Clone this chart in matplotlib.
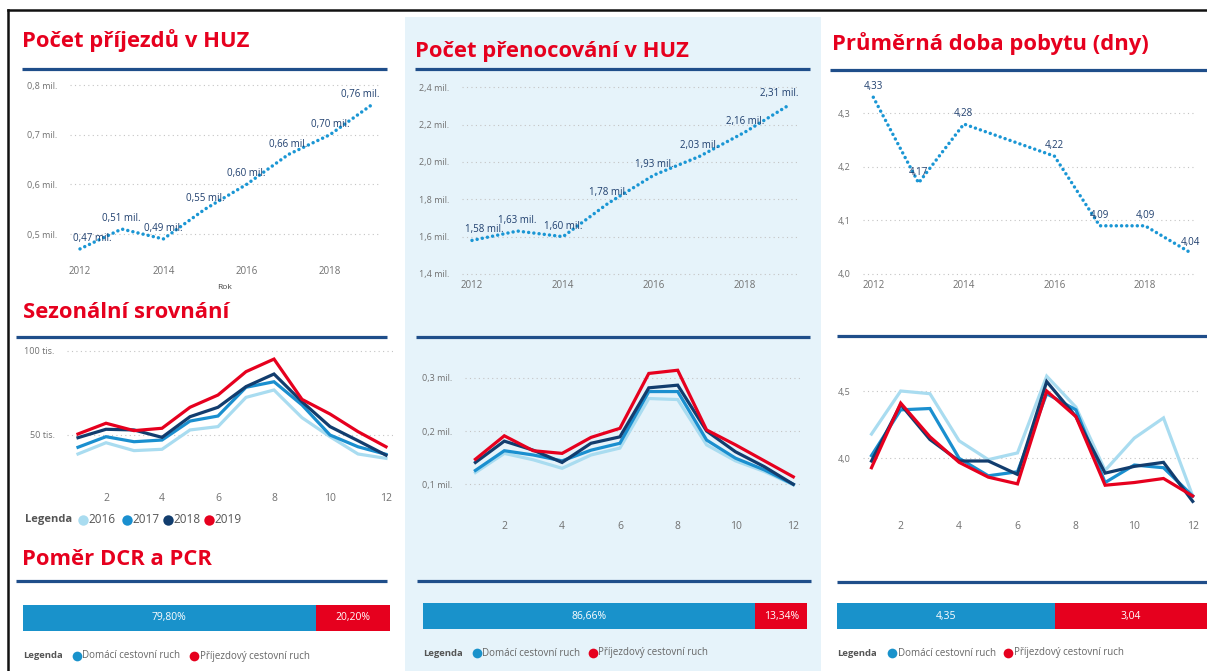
import matplotlib
matplotlib.use("Agg")
import matplotlib.pyplot as plt
from matplotlib.patches import Rectangle

W, H = 1207, 671
plt.rcParams.update({
    "font.family": ["Open Sans", "DejaVu Sans"],
    "axes.facecolor": "none",
})

RED = "#e6001e"
NAVY = "#1f4e8a"
DOT = "#1a96d4"
BLUE = "#1992cb"
GREY = "#707070"
LABEL = "#1f3f6e"
PANEL = "#e6f3fa"
YEAR_COLORS = {"2016": "#a9dcf0", "2017": "#1a8fcf", "2018": "#123d6e", "2019": "#e6001e"}

# ---- data
years = [2012, 2013, 2014, 2015, 2016, 2017, 2018, 2019]
arrivals = [0.47, 0.51, 0.49, 0.55, 0.60, 0.66, 0.70, 0.76]          # mil.
nights = [1.58, 1.63, 1.60, 1.78, 1.93, 2.03, 2.16, 2.31]            # mil.
stay = [4.33, 4.17, 4.28, 4.25, 4.22, 4.09, 4.09, 4.04]              # dny
stay_labelled = [True, True, True, False, True, True, True, True]

months = list(range(1, 13))
season_years = ["2016", "2017", "2018", "2019"]
season_arrivals = {  # tis.
    "2016": [38.7, 45.4, 40.7, 41.5, 53.0, 55.0, 72.4, 76.8, 60.3, 49.0, 38.7, 36.1],
    "2017": [42.7, 49.0, 46.0, 47.0, 58.3, 61.3, 78.4, 81.7, 67.9, 50.0, 43.0, 38.5],
    "2018": [48.4, 53.4, 53.0, 48.6, 60.9, 66.5, 78.8, 86.3, 69.8, 55.0, 46.6, 38.0],
    "2019": [50.6, 57.0, 52.6, 54.0, 66.5, 73.8, 87.7, 95.2, 71.2, 62.5, 52.0, 43.0],
}
season_nights = {  # mil.
    "2016": [0.122, 0.158, 0.146, 0.130, 0.155, 0.168, 0.261, 0.259, 0.174, 0.144, 0.124, 0.099],
    "2017": [0.126, 0.163, 0.155, 0.144, 0.164, 0.177, 0.274, 0.274, 0.183, 0.149, 0.127, 0.100],
    "2018": [0.141, 0.181, 0.164, 0.141, 0.177, 0.189, 0.281, 0.286, 0.200, 0.161, 0.133, 0.100],
    "2019": [0.147, 0.191, 0.163, 0.158, 0.188, 0.205, 0.308, 0.314, 0.202, 0.174, 0.144, 0.114],
}
season_stay = {
    "2016": [4.18, 4.50, 4.48, 4.13, 3.99, 4.04, 4.61, 4.38, 3.91, 4.15, 4.30, 3.72],
    "2017": [4.02, 4.36, 4.37, 4.00, 3.87, 3.90, 4.48, 4.36, 3.82, 3.95, 3.93, 3.72],
    "2018": [3.98, 4.40, 4.14, 3.98, 3.98, 3.88, 4.57, 4.31, 3.89, 3.94, 3.97, 3.68],
    "2019": [3.93, 4.41, 4.16, 3.97, 3.86, 3.81, 4.50, 4.31, 3.80, 3.82, 3.85, 3.72],
}

share_labels = ["Domácí cestovní ruch", "Příjezdový cestovní ruch"]
arrivals_share = [79.80, 20.20]
nights_share = [86.66, 13.34]
stay_split = [4.35, 3.04]


def cz(v, d):
    return f"{v:.{d}f}".replace(".", ",")


def lims(a0, a1, v0, p0, v1, p1):
    s = (v1 - v0) / (p1 - p0)
    return v0 + (a0 - p0) * s, v0 + (a1 - p0) * s


def add_ax(fig, x0, y0, x1, y1):
    return fig.add_axes([x0 / W, 1 - y1 / H, (x1 - x0) / W, (y1 - y0) / H])


def style(ax, xticks, yticks, yfmt, xsize=7, ysize=6.5):
    for s in ax.spines.values():
        s.set_visible(False)
    ax.set_xticks(xticks)
    ax.set_yticks(yticks)
    ax.set_yticklabels([yfmt(v) for v in yticks])
    ax.tick_params(length=0, colors=GREY)
    ax.tick_params(axis="x", labelsize=xsize, pad=3)
    ax.tick_params(axis="y", labelsize=ysize, pad=9)
    ax.grid(axis="y", color="#c4c4c4", linestyle=(0, (1, 3)), linewidth=0.8)
    ax.set_axisbelow(True)


def year_chart(fig, box, xcal, ycal, values, yticks, yfmt, lblfmt, shown=None, edge_shift=True):
    ax = add_ax(fig, *box)
    ax.set_xlim(*lims(box[0], box[2], *xcal))
    ax.set_ylim(*lims(box[3], box[1], *ycal))
    ax.plot(years, values, color=DOT, lw=2.5, linestyle=(0, (0.01, 1.5)), dash_capstyle="round")
    n = len(values)
    for i, (x, v) in enumerate(zip(years, values)):
        if shown is not None and not shown[i]:
            continue
        ha, dx = "center", 0
        if edge_shift and i == 0:
            ha, dx = "left", -5
        elif edge_shift and i == n - 1:
            ha, dx = "right", 6
        ax.annotate(lblfmt(v), (x, v), xytext=(dx, 7.5), textcoords="offset points",
                    ha=ha, va="center", fontsize=7, color=LABEL)
    style(ax, [2012, 2014, 2016, 2018], yticks, yfmt)
    return ax


def season_chart(fig, box, xcal, ycal, series, yticks, yfmt):
    ax = add_ax(fig, *box)
    ax.set_xlim(*lims(box[0], box[2], *xcal))
    ax.set_ylim(*lims(box[3], box[1], *ycal))
    for yr in season_years:
        ax.plot(months, series[yr], color=YEAR_COLORS[yr], lw=2.3, solid_joinstyle="miter")
    style(ax, [2, 4, 6, 8, 10, 12], yticks, yfmt, xsize=7.5)
    ax.tick_params(axis="x", pad=6)
    return ax


def split_bar(fig, box, values, fmt):
    ax = add_ax(fig, *box)
    left = 0
    for v, c in zip(values, [BLUE, RED]):
        ax.barh(0, v, left=left, height=1, color=c, linewidth=0)
        ax.text(left + v / 2, 0, fmt(v), color="white", ha="center", va="center", fontsize=7.5)
        left += v
    ax.set_xlim(0, sum(values))
    ax.set_ylim(-0.5, 0.5)
    ax.axis("off")


fig = plt.figure(figsize=(W / 100, H / 100), dpi=100)

# ---- background layer in pixel coordinates
bg = fig.add_axes([0, 0, 1, 1], zorder=-1)
bg.set_xlim(0, W)
bg.set_ylim(H, 0)
bg.axis("off")
bg.add_patch(Rectangle((405, 17), 416, H - 17, color=PANEL, lw=0))
bg.plot([8, W], [10, 10], color="#111111", lw=1.8)
bg.plot([8, 8], [10, H], color="#111111", lw=1.8)

titles = [
    ("Počet příjezdů v HUZ", 22, 46.5),
    ("Počet přenocování v HUZ", 415, 57),
    ("Průměrná doba pobytu (dny)", 832, 50),
    ("Sezonální srovnání", 23, 318),
    ("Poměr DCR a PCR", 22, 565),
]
for t, x, y in titles:
    bg.text(x, y, t, color=RED, fontsize=15.8, fontweight="bold", ha="left", va="baseline")

rules = [
    (22, 387, 69), (415, 810, 69), (830, W, 70),
    (16, 387, 336.5), (416, 810, 337), (837, W, 336),
    (16, 387, 581), (417, 811, 581), (837, W, 581.5),
]
for x0, x1, y in rules:
    bg.plot([x0, x1], [y, y], color=NAVY, lw=2.3, solid_capstyle="butt")

# seasonal legend
bg.text(25, 519.5, "Legenda", color="#555555", fontsize=8, fontweight="bold", ha="left", va="center")
for yr, xc in zip(season_years, [83, 127, 168, 209]):
    bg.plot(xc, 519.5, "o", color=YEAR_COLORS[yr], ms=7.5, mec="none")
    bg.text(xc + 5.5, 519.5, yr, color="#555555", fontsize=8.5, ha="left", va="center")

# bar legends
for xl, xb, xr, y in [(23, 77, 194, 656), (423, 477, 593, 653), (837, 892, 1008, 653)]:
    bg.text(xl, y, "Legenda", color="#555555", fontsize=6.8, fontweight="bold", ha="left", va="center")
    for xc, c, lbl in zip([xb, xr], [BLUE, RED], share_labels):
        bg.plot(xc, y, "o", color=c, ms=7, mec="none")
        bg.text(xc + 5.5, y, lbl, color="#666666", fontsize=7, ha="left", va="center")

# ---- annual charts
mil1 = lambda v: cz(v, 1) + " mil."
mil2 = lambda v: cz(v, 2) + " mil."
ax1 = year_chart(fig, (70, 78, 380, 262), (2012, 80, 2018, 330), (0.8, 85, 0.5, 234),
                 arrivals, [0.5, 0.6, 0.7, 0.8], mil1, mil2)
ax1.set_xlabel("Rok", fontsize=6, color="#444444", labelpad=5)
year_chart(fig, (462, 80, 800, 276), (2012, 472, 2018, 745), (2.4, 87.3, 1.4, 274),
           nights, [1.4, 1.6, 1.8, 2.0, 2.2, 2.4], mil1, mil2)
year_chart(fig, (863, 80, 1195, 276), (2012, 873.3, 2018, 1145), (4.3, 113.3, 4.0, 274),
           stay, [4.0, 4.1, 4.2, 4.3], lambda v: cz(v, 1), lambda v: cz(v, 2),
           shown=stay_labelled, edge_shift=False)

# ---- seasonal charts
season_chart(fig, (67, 342, 393, 485), (2, 106, 12, 386), (100, 351, 50, 435),
             season_arrivals, [50, 100], lambda v: f"{v:.0f} tis.")
season_chart(fig, (465, 350, 800, 513), (2, 504.3, 12, 793.3), (0.3, 377.7, 0.1, 484.3),
             season_nights, [0.1, 0.2, 0.3], mil1)
season_chart(fig, (863, 350, 1200, 513), (2, 900.7, 12, 1192.7), (4.5, 391, 4.0, 458.3),
             season_stay, [4.0, 4.5], lambda v: cz(v, 1))

# ---- split bars
split_bar(fig, (22.7, 605, 390, 630.7), arrivals_share, lambda v: cz(v, 2) + "%")
split_bar(fig, (422.7, 602.7, 806.7, 629.3), nights_share, lambda v: cz(v, 2) + "%")
split_bar(fig, (837.3, 602.7, W, 629.3), stay_split, lambda v: cz(v, 2))

fig.savefig("out.png", dpi=100)
